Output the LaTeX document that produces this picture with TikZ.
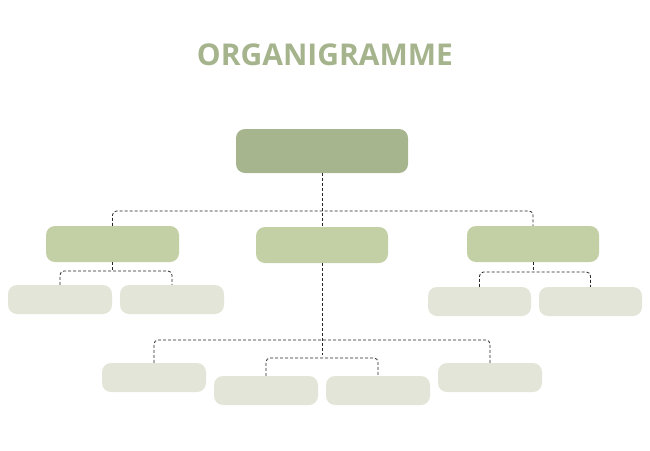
\documentclass[tikz,border=0pt]{standalone}
\usepackage{fontspec}
\setmainfont{Open Sans}
\begin{document}
\begin{tikzpicture}[x=1pt,y=-1pt,
  box/.style={rounded corners=9pt,draw=none,inner sep=0pt},
  top/.style={box,fill=cTop},
  mid/.style={box,fill=cMid},
  low/.style={box,fill=cLow},
  link/.style={draw=black!85,densely dashed,line width=0.8pt,rounded corners=4pt}]
\definecolor{cTop}{HTML}{A7B58E}
\definecolor{cMid}{HTML}{C3CFA4}
\definecolor{cLow}{HTML}{E2E5D8}
\definecolor{cTitle}{HTML}{A5B48C}
\useasboundingbox (0,0) rectangle (650,450);
\node[text=cTitle,font=\bfseries\fontsize{30}{36}\selectfont] (title) at (325,55) {ORGANIGRAMME};
\node[top,minimum width=172pt,minimum height=44pt] (T) at (322,151) {};
\node[mid,minimum width=133pt,minimum height=36pt] (L) at (112.5,244) {};
\node[mid,minimum width=132pt,minimum height=36pt] (C) at (322,245) {};
\node[mid,minimum width=132pt,minimum height=36pt] (R) at (533,244) {};
\node[low,minimum width=104pt,minimum height=29pt] (L1) at (60,299.5) {};
\node[low,minimum width=104pt,minimum height=29pt] (L2) at (172,299.5) {};
\node[low,minimum width=103pt,minimum height=29pt] (R1) at (479.5,301.5) {};
\node[low,minimum width=103pt,minimum height=29pt] (R2) at (590.5,301.5) {};
\node[low,minimum width=104pt,minimum height=29pt] (B1) at (154,377.5) {};
\node[low,minimum width=104pt,minimum height=29pt] (B2) at (266,390.5) {};
\node[low,minimum width=104pt,minimum height=29pt] (B3) at (378,390.5) {};
\node[low,minimum width=104pt,minimum height=29pt] (B4) at (490,377.5) {};
\draw[link] (T.south) -- (C.north);
\draw[link] (L.north) |- (322,211) -| (R.north);
\draw[link] (L1.north) |- (112.5,271) -| (L2.north);
\draw[link] (L.south) -- (112.5,271);
\draw[link] (R1.north) |- (533,272) -| (R2.north);
\draw[link] (R.south) -- (533,272);
\draw[link] (C.south) -- (322,355);
\draw[link] (B1.north) |- (322,340) -| (B4.north);
\draw[link] (B2.north) |- (322,358) -| (B3.north);
\end{tikzpicture}
\end{document}
